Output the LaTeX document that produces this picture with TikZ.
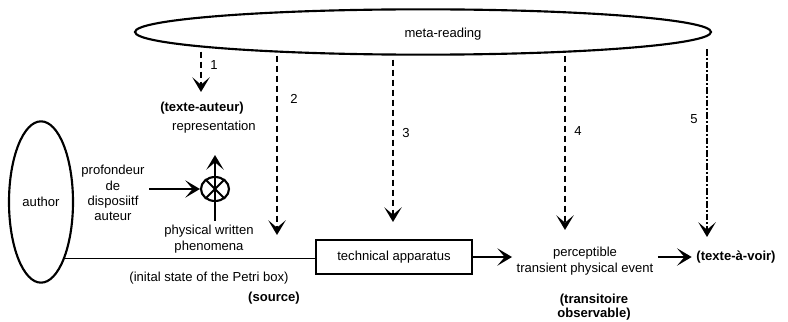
\documentclass[tikz,border=0pt]{standalone}
\usepackage{fontspec}
\setmainfont{Liberation Sans}
\usetikzlibrary{arrows.meta,shapes.geometric}

\begin{document}
\begin{tikzpicture}[
        x=0.75pt, y=-0.75pt,
        every node/.style={font=\fontsize{9.8}{11.5}\selectfont, align=center},
        bold/.style={font=\fontsize{9.8}{11.5}\selectfont\bfseries},
        oval/.style={ellipse, draw, line width=1.6pt, inner sep=0pt},
        box/.style={rectangle, draw, line width=1.4pt, minimum width=117pt, minimum height=25.5pt},
        arrow/.style={-{Stealth[length=11pt,width=13pt,inset=5.5pt]}, line width=1.8pt},
        readarrow/.style={arrow, line width=2.2pt, dash pattern=on 5pt off 2.5pt},
        dotarrow/.style={arrow, line width=2.2pt, dash pattern=on 5pt off 1.5pt on 1.5pt off 1.5pt},
        num/.style={right, inner sep=6pt}
    ]
    \useasboundingbox (0,0) rectangle (788,321);

    % meta-reading
    \node[oval, minimum width=432pt, minimum height=34pt] (meta) at (423,32) {};
    \node (metalabel) at (443,34) {meta-reading};

    % author side
    \node[oval, minimum width=48pt, minimum height=121pt] (author) at (41,202) {author};
    \node (prof) at (113,193) {profondeur\\de\\disposiitf\\auteur};
    \node[ellipse, draw, line width=1.6pt, minimum width=21pt, minimum height=18pt, inner sep=0pt] (ox) at (215,189) {};
    \draw[line width=1.4pt] (ox.45) -- (ox.225) (ox.135) -- (ox.315);
    \node[bold] (auteur) at (202,108) {(texte-auteur)};
    \node (repr) at (214,127) {representation};
    \node (pw) at (209,239) {physical written\\phenomena};
    \node (petri) at (209,278) {(inital state of the Petri box)};
    \node[bold] (source) at (274,298) {(source)};
    \coordinate (up) at (215,155);

    % technical chain
    \node[box] (box) at (394,257) {technical apparatus};
    \node (perc) at (585,261) {perceptible\\transient physical event};
    \node[bold] (voir) at (736,257) {(texte-à-voir)};
    \node[bold, font=\fontsize{9.8}{10.5}\selectfont\bfseries] (trans) at (594,307) {(transitoire\\observable)};

    \draw[arrow] (prof.east |- ox) -- (ox.west);
    \draw[arrow] (up |- pw.north) -- (up);
    \draw[line width=1.2pt] (author.-67) -- (author.-67 -| box.west);
    \draw[arrow] (box.east) -- (box.east -| perc.west);
    \draw[arrow] (perc.east |- voir) -- (voir.west);

    % readings
    \coordinate (e1) at (201,92);
    \coordinate (e2) at (277,235);
    \coordinate (e3) at (393,222);
    \coordinate (e4) at (565,230);
    \coordinate (e5) at (707,237);
    \draw[readarrow] ([yshift=3pt]e1 |- meta.south) -- node[pos=.32, num] {1} (e1);
    \draw[readarrow] (e2 |- meta.south) -- node[pos=.24, num, xshift=3pt] {2} (e2);
    \draw[readarrow] ([yshift=-3pt]e3 |- meta.south) -- node[pos=.45, num] {3} (e3);
    \draw[readarrow] (e4 |- meta.south) -- node[pos=.43, num] {4} (e4);
    \draw[dotarrow] ([yshift=5pt]e5 |- meta.south) -- node[pos=.37, left, inner sep=6pt] {5} (e5);

    \end{tikzpicture}
\end{document}
